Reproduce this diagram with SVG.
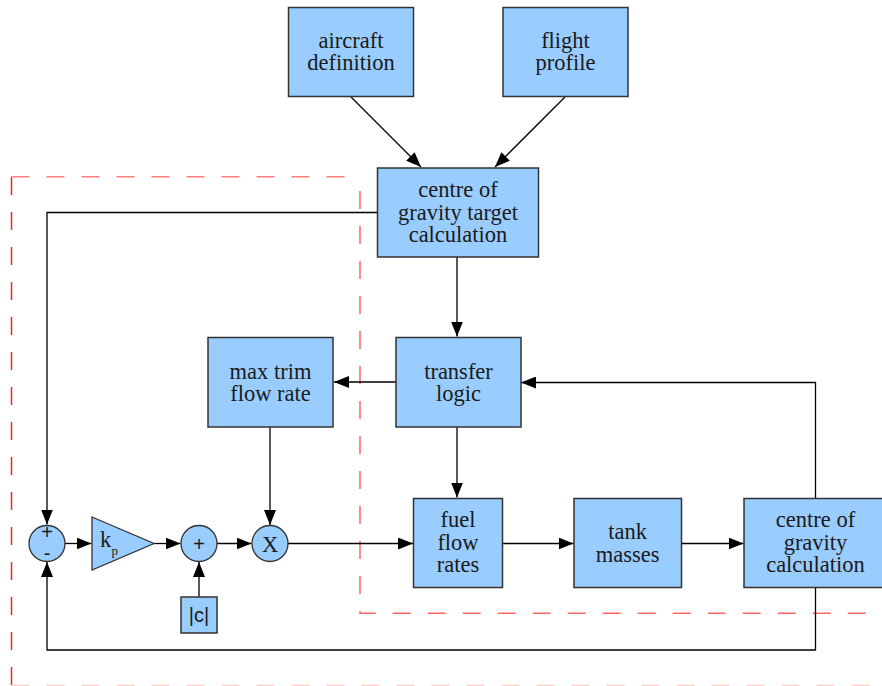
<svg xmlns="http://www.w3.org/2000/svg" width="882" height="686" viewBox="0 0 882 686">
<style>
.box{fill:#99ccff;stroke:#333;stroke-width:1.5}
.t{font-family:"Liberation Serif","Times New Roman",serif;font-size:22.5px;fill:#1a1a1a;text-anchor:middle}
.c{fill:none;stroke:#000;stroke-width:1.3}
.dash{fill:none;stroke-width:1.5;stroke-dasharray:18 17}
</style>
<defs>
<marker id="a" markerUnits="userSpaceOnUse" markerWidth="16" markerHeight="12" refX="15" refY="6" orient="auto">
<path d="M0,0 L15,6 L0,12 z" fill="#000"/>
</marker>
</defs>
<rect width="882" height="686" fill="#fff"/>
<g id="boundaries">
<path class="dash" d="M11.5,685 V177" stroke="#e52a2a"/>
<path class="dash" d="M11.5,176.7 H358" stroke="#ff7f7f"/>
<path class="dash" d="M360,191 V613.3 H882" stroke="#ff6666" style="stroke-dashoffset:0"/>
<path class="dash" d="M11.5,685.5 H882" stroke="#ffcccc"/>
</g>
<g id="connectors">
<path class="c" d="M351,97 L421,167" marker-end="url(#a)"/>
<path class="c" d="M565,97 L495,167" marker-end="url(#a)"/>
<path class="c" d="M377,212.5 H47 V524.5" marker-end="url(#a)"/>
<path class="c" d="M457,257 V336.5" marker-end="url(#a)"/>
<path class="c" d="M396,382 H334" marker-end="url(#a)"/>
<path class="c" d="M457,427 V497.5" marker-end="url(#a)"/>
<path class="c" d="M270,427 V525" marker-end="url(#a)"/>
<path class="c" d="M815.5,498 V382.5 H521" marker-end="url(#a)"/>
<path class="c" d="M815.5,588 V650 H47 V562" marker-end="url(#a)"/>
<path class="c" d="M65,543.5 H91.5" marker-end="url(#a)"/>
<path class="c" d="M154,543.5 H180.5" marker-end="url(#a)"/>
<path class="c" d="M217,543.5 H251.5" marker-end="url(#a)"/>
<path class="c" d="M288,543.5 H413" marker-end="url(#a)"/>
<path class="c" d="M199,597 V562" marker-end="url(#a)"/>
<path class="c" d="M503,543.5 H573.5" marker-end="url(#a)"/>
<path class="c" d="M681.5,543.5 H743.5" marker-end="url(#a)"/>
</g>
<g id="aircraft-definition">
<rect class="box" x="288.5" y="7.5" width="125" height="89"/>
<text class="t" x="351" y="48">aircraft</text>
<text class="t" x="351" y="70">definition</text>
</g>
<g id="flight-profile">
<rect class="box" x="503" y="7.5" width="125" height="89"/>
<text class="t" x="565.5" y="48">flight</text>
<text class="t" x="565.5" y="70">profile</text>
</g>
<g id="cog-target">
<rect class="box" x="377.5" y="168" width="161" height="89"/>
<text class="t" x="458" y="197">centre of</text>
<text class="t" x="458" y="219.5">gravity target</text>
<text class="t" x="458" y="242">calculation</text>
</g>
<g id="transfer-logic">
<rect class="box" x="396" y="337.5" width="125" height="89.5"/>
<text class="t" x="458.5" y="378.5">transfer</text>
<text class="t" x="458.5" y="400.5">logic</text>
</g>
<g id="max-trim">
<rect class="box" x="208" y="337.5" width="125" height="89.5"/>
<text class="t" x="270.5" y="378.5">max trim</text>
<text class="t" x="270.5" y="400.5">flow rate</text>
</g>
<g id="fuel-flow-rates">
<rect class="box" x="413.5" y="498.5" width="89" height="89"/>
<text class="t" x="458" y="527">fuel</text>
<text class="t" x="458" y="550">flow</text>
<text class="t" x="458" y="572">rates</text>
</g>
<g id="tank-masses">
<rect class="box" x="574" y="498.5" width="107.5" height="89"/>
<text class="t" x="627.7" y="539">tank</text>
<text class="t" x="627.7" y="561.5">masses</text>
</g>
<g id="cog-calculation">
<rect class="box" x="744" y="498.5" width="143" height="89"/>
<text class="t" x="815.5" y="527">centre of</text>
<text class="t" x="815.5" y="550">gravity</text>
<text class="t" x="815.5" y="572">calculation</text>
</g>
<g id="sum">
<circle class="box" cx="47" cy="543.5" r="18" style="stroke-width:1.3"/>
<text class="t" x="47" y="539" style="font-size:20px;font-family:'Liberation Sans',Arial,sans-serif">+</text>
<text class="t" x="47" y="560" style="font-size:20px;font-family:'Liberation Sans',Arial,sans-serif">-</text>
</g>
<g id="gain">
<path class="box" d="M92,517 L154,543.5 L92,570 Z" style="stroke-width:1.3"/>
<text x="100" y="547" style="font-family:'Liberation Serif',serif;font-size:22.5px;fill:#1a1a1a">k</text>
<text x="111.5" y="555" style="font-family:'Liberation Serif',serif;font-size:13px;fill:#1a1a1a">p</text>
</g>
<g id="plus">
<circle class="box" cx="199" cy="543.5" r="18" style="stroke-width:1.3"/>
<text class="t" x="199" y="550.5" style="font-size:20px;font-family:'Liberation Sans',Arial,sans-serif">+</text>
</g>
<g id="multiply">
<circle class="box" cx="270" cy="543.5" r="18" style="stroke-width:1.3"/>
<text class="t" x="270" y="551.5">X</text>
</g>
<g id="c-const">
<rect class="box" x="181" y="597" width="36" height="36"/>
<text class="t" x="199" y="622" style="font-size:20px;font-family:'Liberation Sans',Arial,sans-serif">|c|</text>
</g>
</svg>
